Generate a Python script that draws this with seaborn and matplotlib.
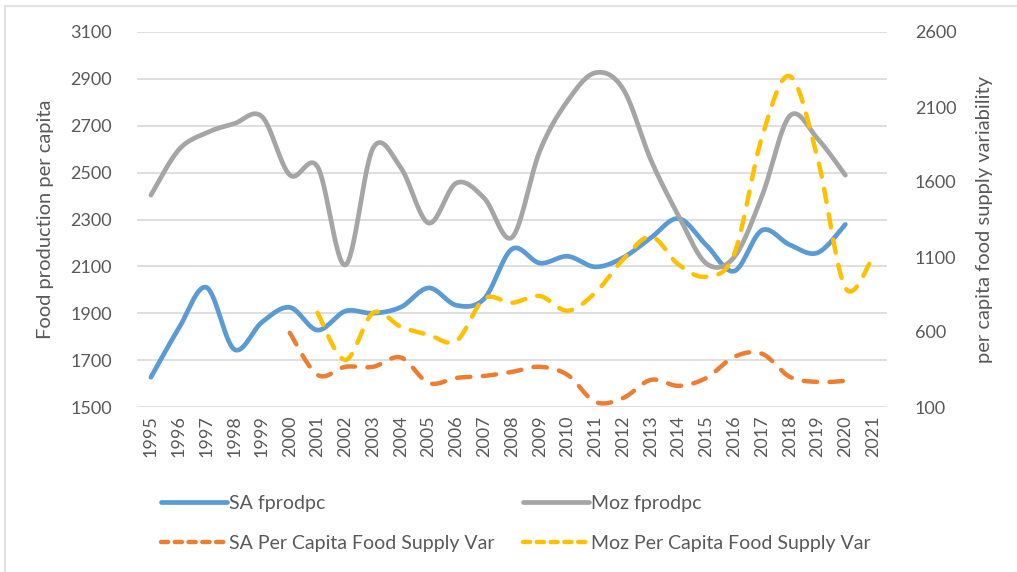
import numpy as np
import pandas as pd
import seaborn as sns
import matplotlib.pyplot as plt
from matplotlib.lines import Line2D

# values
years = [str(y) for y in range(1995, 2022)]

sa_fprodpc = [1627, 1835, 2010, 1746, 1862, 1925, 1828, 1909, 1900, 1926,
              2008, 1934, 1962, 2174, 2114, 2143, 2098, 2137, 2222, 2304,
              2190, 2080, 2254, 2192, 2158, 2279]            # 1995-2020
moz_fprodpc = [2404, 2597, 2670, 2709, 2739, 2490, 2525, 2106, 2605, 2520,
               2285, 2456, 2391, 2224, 2592, 2806, 2926, 2857, 2554, 2315,
               2112, 2140, 2400, 2742, 2645, 2489]           # 1995-2020
sa_var = [595, 314, 368, 368, 430, 260, 294, 307, 334, 368, 314,
          134, 160, 281, 241, 294, 435, 455, 301, 267, 274]  # 2000-2020
moz_var = [728, 414, 728, 635, 581, 541, 822, 795, 840, 742, 862,
           1083, 1236, 1049, 969, 1120, 1900, 2306, 1760, 895, 1103]  # 2001-2021

BLUE, GREY, ORANGE, YELLOW = '#5B9BD5', '#A5A5A5', '#ED7D31', '#FFC000'
TXT = '#595959'


def smooth(xs, ys, n=30):
    # Excel-style smoothed line (Catmull-Rom through every point)
    xs = np.asarray(xs, float)
    ys = np.asarray(ys, float)
    px = np.concatenate([[xs[0]], xs, [xs[-1]]])
    py = np.concatenate([[ys[0]], ys, [ys[-1]]])
    t = np.linspace(0, 1, n, endpoint=False)
    ox, oy = [], []
    for i in range(1, len(px) - 2):
        for p, o in ((px, ox), (py, oy)):
            p0, p1, p2, p3 = p[i - 1], p[i], p[i + 1], p[i + 2]
            o.extend(0.5 * ((2 * p1) + (-p0 + p2) * t
                            + (2 * p0 - 5 * p1 + 4 * p2 - p3) * t ** 2
                            + (-p0 + 3 * p1 - 3 * p2 + p3) * t ** 3))
    ox.append(xs[-1])
    oy.append(ys[-1])
    return pd.DataFrame({'x': ox, 'y': oy})


sns.set_theme(style='white')
plt.rcParams['font.family'] = ['Lato', 'DejaVu Sans']

fig = plt.figure(figsize=(10.17, 5.72), dpi=100)
ax = fig.add_axes([137 / 1017, 1 - 407 / 572, 750 / 1017, 375 / 572])
ax2 = ax.twinx()

pos = np.arange(len(years))
series_left = [(sa_fprodpc, 0, BLUE, 'SA fprodpc'),
               (moz_fprodpc, 0, GREY, 'Moz fprodpc')]
series_right = [(sa_var, 5, ORANGE, 'SA Per Capita Food Supply Var'),
                (moz_var, 6, YELLOW, 'Moz Per Capita Food Supply Var')]

for vals, start, col, lab in series_left:
    d = smooth(pos[start:start + len(vals)], vals)
    sns.lineplot(data=d, x='x', y='y', ax=ax, color=col, lw=3.4,
                 sort=False, solid_capstyle='round', zorder=3)

for vals, start, col, lab in series_right:
    d = smooth(pos[start:start + len(vals)], vals)
    sns.lineplot(data=d, x='x', y='y', ax=ax2, color=col, lw=3.2,
                 sort=False, linestyle=(0, (3, 2.8)),
                 dash_capstyle='round', zorder=3)

ax.set_xlim(-0.5, len(years) - 0.5)
ax.set_ylim(1500, 3100)
ax.set_yticks(range(1500, 3101, 200))
ax2.set_ylim(100, 2600)
ax2.set_yticks(range(100, 2601, 500))
ax.set_xticks(pos)
ax.set_xticklabels(years, rotation=90)
ax.grid(axis='y', color='#D9D9D9', lw=1.2)
ax2.grid(False)
for a in (ax, ax2):
    for s in a.spines.values():
        s.set_visible(False)
    a.tick_params(length=0, labelsize=13, colors=TXT)
ax.tick_params(axis='y', pad=18)
ax.tick_params(axis='x', pad=6)
ax2.tick_params(axis='y', pad=20)
ax.set_xlabel('')
ax.set_ylabel('Food production per capita', fontsize=14.5, color=TXT, labelpad=12)
ax2.set_ylabel('per capita food supply variability', fontsize=14.5, color=TXT, labelpad=14)

handles = [Line2D([], [], color=BLUE, lw=3.4, solid_capstyle='round'),
           Line2D([], [], color=ORANGE, lw=3.2, linestyle=(0, (1.6, 1.5)),
                  dash_capstyle='round'),
           Line2D([], [], color=GREY, lw=3.4, solid_capstyle='round'),
           Line2D([], [], color=YELLOW, lw=3.2, linestyle=(0, (1.6, 1.5)),
                  dash_capstyle='round')]
labels = ['SA fprodpc', 'SA Per Capita Food Supply Var',
          'Moz fprodpc', 'Moz Per Capita Food Supply Var']
fig.legend(handles, labels, ncol=2, loc='upper left',
           bbox_to_anchor=(143 / 1017, 1 - 477 / 572), frameon=False,
           fontsize=14, handlelength=3.4, handletextpad=0.12,
           columnspacing=1.45, labelspacing=1.2, labelcolor=TXT)

# chart area border (top and left edges only)
fig.add_artist(Line2D([4.5 / 1017, 1], [1 - 6 / 572] * 2, color='#E2E2E2', lw=1.6))
fig.add_artist(Line2D([4.5 / 1017] * 2, [0, 1 - 6 / 572], color='#E2E2E2', lw=1.6))

fig.savefig('out.png', dpi=100)
